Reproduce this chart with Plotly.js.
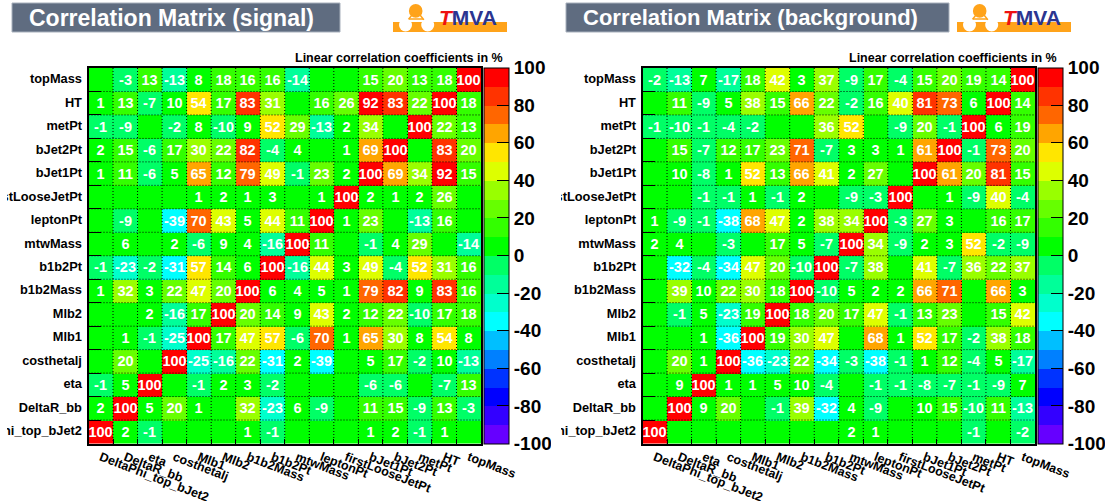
<!DOCTYPE html>
<html><head><meta charset="utf-8">
<script src="https://cdn.plot.ly/plotly-3.0.1.min.js"></script>
<style>
html,body{margin:0;padding:0;background:#fff;width:1105px;height:501px;overflow:hidden}
#sig,#bkg{position:absolute;top:0;width:544px;height:501px;overflow:hidden}
#sig{left:7px}#bkg{left:561px}
</style></head><body>
<div id="sig"></div><div id="bkg"></div>
<script>
const variables = ["DeltaPhi_top_bJet2","DeltaR_bb","eta","costhetalj","Mlb1","Mlb2","b1b2Mass","b1b2Pt","mtwMass","leptonPt","firstLooseJetPt","bJet1Pt","bJet2Pt","metPt","HT","topMass"];
// rows listed top to bottom as in the picture; 0 = printed blank
const signalRows = [
[0,-3,13,-13,8,18,16,16,-14,0,0,15,20,13,18,100],
[1,13,-7,10,54,17,83,31,0,16,26,92,83,22,100,18],
[-1,-9,0,-2,8,-10,9,52,29,-13,2,34,0,100,22,13],
[2,15,-6,17,30,22,82,-4,4,0,1,69,100,0,83,20],
[1,11,-6,5,65,12,79,49,-1,23,2,100,69,34,92,15],
[0,0,0,0,1,2,1,3,0,1,100,2,1,2,26,0],
[0,-9,0,-39,70,43,5,44,11,100,1,23,0,-13,16,0],
[0,6,0,2,-6,9,4,-16,100,11,0,-1,4,29,0,-14],
[-1,-23,-2,-31,57,14,6,100,-16,44,3,49,-4,52,31,16],
[1,32,3,22,47,20,100,6,4,5,1,79,82,9,83,16],
[0,0,2,-16,17,100,20,14,9,43,2,12,22,-10,17,18],
[0,1,-1,-25,100,17,47,57,-6,70,1,65,30,8,54,8],
[0,20,0,100,-25,-16,22,-31,2,-39,0,5,17,-2,10,-13],
[-1,5,100,0,-1,2,3,-2,0,0,0,-6,-6,0,-7,13],
[2,100,5,20,1,0,32,-23,6,-9,0,11,15,-9,13,-3],
[100,2,-1,0,0,0,1,-1,0,0,0,1,2,-1,1,0]];
const backgroundRows = [
[-2,-13,7,-17,18,42,3,37,-9,17,-4,15,20,19,14,100],
[0,11,-9,5,38,15,66,22,-2,16,40,81,73,6,100,14],
[-1,-10,-1,-4,-2,0,0,36,52,0,-9,20,-1,100,6,19],
[0,15,-7,12,17,23,71,-7,3,3,1,61,100,-1,73,20],
[0,10,-8,1,52,13,66,41,2,27,0,100,61,20,81,15],
[0,0,-1,-1,1,-1,2,0,-9,-3,100,0,1,-9,40,-4],
[1,-9,-1,-38,68,47,2,38,34,100,-3,27,3,0,16,17],
[2,4,0,-3,0,17,5,-7,100,34,-9,2,3,52,-2,-9],
[0,-32,-4,-34,47,20,-10,100,-7,38,0,41,-7,36,22,37],
[0,39,10,22,30,18,100,-10,5,2,2,66,71,0,66,3],
[0,-1,5,-23,19,100,18,20,17,47,-1,13,23,0,15,42],
[0,0,1,-36,100,19,30,47,0,68,1,52,17,-2,38,18],
[0,20,1,100,-36,-23,22,-34,-3,-38,-1,1,12,-4,5,-17],
[0,9,100,1,1,5,10,-4,0,-1,-1,-8,-7,-1,-9,7],
[0,100,9,20,0,-1,39,-32,4,-9,0,10,15,-10,11,-13],
[100,0,0,0,0,0,0,0,2,1,0,0,0,-1,0,-2]];
const bandColors = ["#6600ff","#3300ff","#0000ff","#0033ff","#0080ff","#00bfff","#00ffff","#00ffcc","#00ff99","#00ff66",
"#00ff00","#33ff00","#66ff00","#99ff00","#ddff00","#ffe600","#ffa500","#ff6600","#ff3300","#ff0000"];
const barTicks = [-100,-80,-60,-40,-20,0,20,40,60,80,100];

const W=544,H=501,FONT='"Liberation Sans",Arial,sans-serif';
const px=x=>x/W, py=y=>1-y/H;
const colorscale=[];
bandColors.forEach((c,i)=>{colorscale.push([i/20,c],[(i+1)/20,c]);});

function rect(x0,y0,x1,y1,fill,line){return {type:'rect',xref:'paper',yref:'paper',x0:px(x0),x1:px(x1),y0:py(y0),y1:py(y1),fillcolor:fill,line:line||{width:0},layer:'above'};}
function circ(cx,cy,r,fill){return {type:'circle',xref:'paper',yref:'paper',x0:px(cx-r),x1:px(cx+r),y0:py(cy+r),y1:py(cy-r),fillcolor:fill,line:{width:0},layer:'above'};}
function seg(x0,y0,x1,y1,color,w){return {type:'line',xref:'paper',yref:'paper',x0:px(x0),x1:px(x1),y0:py(y0),y1:py(y1),line:{color,width:w},layer:'above'};}
function note(x,y,text,size,color,anchor){return {xref:'paper',yref:'paper',x:px(x),y:py(y),text,showarrow:false,xanchor:anchor||'left',yanchor:'middle',font:{family:FONT,size,color,weight:700},borderpad:0,borderwidth:0};}

function draw(id,rows,titleText,titleSize,barRight,logoDx){
  const n=variables.length;
  const z=rows.slice().reverse();
  const text=z.map(r=>r.map(v=>v===0?'':String(v)));
  const gridShapes=[];
  for(let i=1;i<n;i++){
    gridShapes.push({type:'line',xref:'x',yref:'paper',x0:i-0.5,x1:i-0.5,y0:py(68),y1:py(443.5),line:{color:'#000',width:1,dash:'1px,2px'},layer:'above'});
    gridShapes.push({type:'line',xref:'paper',yref:'y',y0:i-0.5,y1:i-0.5,x0:px(81.5),x1:px(474),line:{color:'#000',width:1,dash:'1px,2px'},layer:'above'});
  }
  const lx=386+logoDx;
  const logo=[
    rect(lx,22,lx+114,32,'#ffa31a'),
    seg(lx+16,19,lx+30,19,'#ffa31a',1.5),
    seg(lx+19,15,lx+15,20,'#ffa31a',1.5),
    seg(lx+27,15,lx+31,20,'#ffa31a',1.5),
    circ(lx+22.7,10.9,6.8,'#ffa31a'),
    circ(lx+12.5,25,6.5,'#ffffff'),
    circ(lx+34.7,25,6.5,'#ffffff')
  ];
  const annotations=[
    note(21.5,17.5,titleText,titleSize,'#ffffff'),
    note(288,58,'Linear correlation coefficients in %',12.5,'#000000'),
    note(lx+46,17.5,'<i><span style="color:#ee1111">T</span></i>MVA',21,'#2b3590')
  ];
  const data=[{
    type:'heatmap',x:variables,y:variables,z,text,texttemplate:'%{text}',
    textfont:{family:FONT,size:14.5,color:'#ffffff',weight:700},
    zmin:-100,zmax:100,colorscale,hoverinfo:'skip',xgap:0,ygap:0,
    colorbar:{x:px(477),xanchor:'left',xref:'paper',y:py(443.5),yanchor:'bottom',yref:'paper',
      len:(443.5-68)/H,lenmode:'fraction',thickness:24.5,thicknessmode:'pixels',xpad:0,ypad:0,
      outlinecolor:'#000',outlinewidth:1,borderwidth:0,
      tickmode:'array',tickvals:barTicks,ticktext:barTicks.map(String),
      ticks:'inside',ticklen:12,tickwidth:1,tickcolor:'#000',
      tickfont:{family:FONT,size:19,color:'#000',weight:700}}
  }];
  const yFont={family:FONT,size:12.8,color:'#000',weight:700};
  const xFont={family:FONT,size:12.5,color:'#000',weight:700};
  const layout={
    width:W,height:H,paper_bgcolor:'#fff',plot_bgcolor:'#fff',showlegend:false,
    margin:{l:0,r:0,t:0,b:0,pad:0,autoexpand:false},
    xaxis:{domain:[px(81.5),px(474)],type:'category',categoryorder:'array',categoryarray:variables,tickson:'boundaries',
      ticks:'inside',ticklen:5,tickwidth:1,tickcolor:'#000',tickfont:xFont,tickangle:21,
      showline:true,linecolor:'#000',linewidth:2,mirror:true,showgrid:false,zeroline:false,automargin:false,
      tickmode:'array',tickvals:variables,ticktext:variables},
    yaxis:{domain:[py(443.5),py(68)],type:'category',categoryorder:'array',categoryarray:variables,tickson:'boundaries',
      ticks:'inside',ticklen:12,tickwidth:1,tickcolor:'#000',tickfont:yFont,ticklabelstandoff:2,ticklabelshift:-1,
      showline:true,linecolor:'#000',linewidth:2,mirror:true,showgrid:false,zeroline:false,automargin:false,
      tickmode:'array',tickvals:variables,ticktext:variables},
    shapes:[rect(5,3,barRight,32,'#5f6c80',{color:'#a8b0bc',width:1})].concat(logo,gridShapes),
    annotations
  };
  Plotly.newPlot(id,data,layout,{displayModeBar:false,staticPlot:true});
}
draw('sig',signalRows,'Correlation Matrix (signal)',23,333,0);
draw('bkg',backgroundRows,'Correlation Matrix (background)',22,388,10);
</script></body></html>
